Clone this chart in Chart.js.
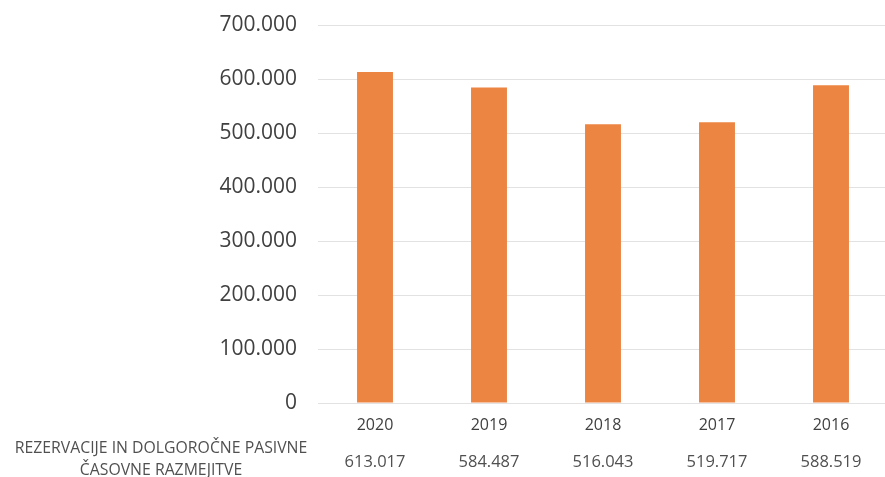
<!DOCTYPE html>
<html>
<head>
<meta charset="utf-8">
<script src="https://cdn.jsdelivr.net/npm/chart.js@4/dist/chart.umd.min.js"></script>
<style>
  html, body { margin: 0; padding: 0; background: #fff; overflow: hidden; }
  #wrap { width: 890px; height: 477px; }
</style>
</head>
<body>
<div id="wrap"><canvas id="chart" width="890" height="477"></canvas></div>
<script>
const years = ['2020', '2019', '2018', '2017', '2016']
const values = [613017, 584487, 516043, 519717, 588519]
const rowLabel = ['REZERVACIJE IN DOLGOROČNE PASIVNE', 'ČASOVNE RAZMEJITVE']
const yTicks = [0, 100000, 200000, 300000, 400000, 500000, 600000, 700000]

const fontFamily = "'Open Sans', 'DejaVu Sans', sans-serif"

// thousands with a dot, as in the Slovenian report
const fmt = v => v === 0 ? '0' : v.toLocaleString('de-DE')

// row under the axis: series name on the left, one value under each year
const tablePlugin = {
  id: 'valueTable',
  afterDraw(chart) {
    const ctx = chart.ctx
    const x = chart.scales.x
    ctx.save()
    ctx.fillStyle = '#505050'
    ctx.textAlign = 'center'
    ctx.textBaseline = 'middle'
    ctx.font = `15.8px ${fontFamily}`
    ctx.fillText(rowLabel[0], 161, 448)
    ctx.fillText(rowLabel[1], 161, 470)
    ctx.font = `16.5px ${fontFamily}`
    values.forEach((v, i) => {
      ctx.fillText(fmt(v), x.getPixelForValue(i), 462)
    })
    ctx.restore()
  }
}

new Chart(document.getElementById('chart'), {
  type: 'bar',
  data: {
    labels: years,
    datasets: [{
      data: values,
      backgroundColor: '#ec8442',
      borderWidth: 0,
      categoryPercentage: 1,
      barPercentage: 0.315
    }]
  },
  options: {
    responsive: false,
    animation: false,
    layout: { padding: { top: 25, right: 2, bottom: 0, left: 0 } },
    plugins: { legend: { display: false }, tooltip: { enabled: false } },
    scales: {
      x: {
        grid: { display: false },
        border: { display: false },
        ticks: { color: '#404040', font: { family: fontFamily, size: 16 }, padding: 5 },
        afterFit: scale => { scale.height = 74 }
      },
      y: {
        min: 0,
        max: 700000,
        afterBuildTicks: scale => { scale.ticks = yTicks.map(v => ({ value: v })) },
        grid: { color: '#e2e2e2', lineWidth: 1, drawTicks: false },
        border: { display: false },
        ticks: {
          color: '#404040',
          font: { family: fontFamily, size: 21 },
          padding: 21,
          callback: v => fmt(v)
        },
        afterFit: scale => {
          scale.width = 318
          scale.paddingTop = 0
          scale.paddingBottom = 0
        }
      }
    }
  },
  plugins: [tablePlugin]
})
</script>
</body>
</html>
